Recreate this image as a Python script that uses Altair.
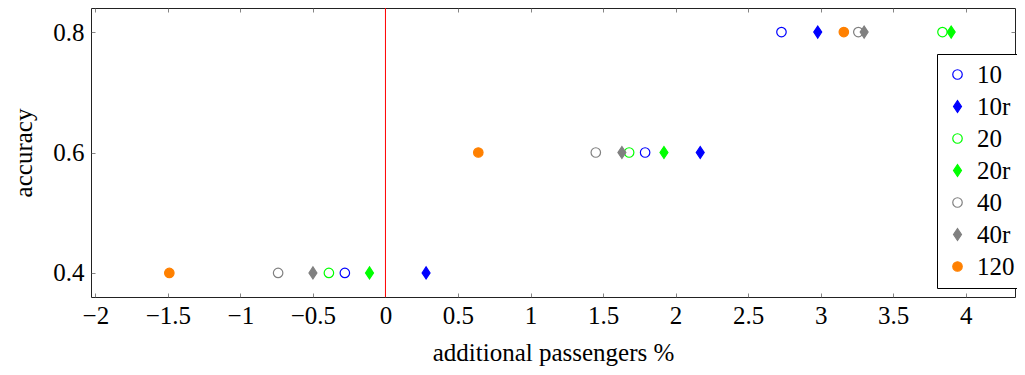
import altair as alt
import pandas as pd

# ---- data ----
accuracy = [0.4, 0.6, 0.8]
series_names = ["10", "10r", "20", "20r", "40", "40r", "120"]
x_10 = [-0.28, 1.79, 2.73]
x_10r = [0.28, 2.17, 2.98]
x_20 = [-0.39, 1.68, 3.84]
x_20r = [-0.11, 1.92, 3.90]
x_40 = [-0.74, 1.45, 3.26]
x_40r = [-0.50, 1.63, 3.30]
x_120 = [-1.49, 0.64, 3.16]
zero_line = [0]
x_ticks = [-2, -1.5, -1, -0.5, 0, 0.5, 1, 1.5, 2, 2.5, 3, 3.5, 4]
y_ticks = [0.4, 0.6, 0.8]

# ---- styles ----
stroke_colors = ["#0000ff", "#0000ff", "#00ff00", "#00ff00", "#808080", "#808080", "#ff8000"]
fill_colors = ["transparent", "#0000ff", "transparent", "#00ff00", "transparent", "#808080", "#ff8000"]
diamond = "M0,-1.27L0.84,0L0,1.27L-0.84,0Z"
shapes = ["circle", diamond, "circle", diamond, "circle", diamond, "circle"]

all_x = [x_10, x_10r, x_20, x_20r, x_40, x_40r, x_120]
rows = []
for name, xs in zip(series_names, all_x):
    for xv, yv in zip(xs, accuracy):
        rows.append({"series": name, "passengers": xv, "accuracy": yv})
df = pd.DataFrame(rows)
df_zero = pd.DataFrame({"zero": zero_line})

FONT = "Liberation Serif"
FS = 25
xscale = alt.Scale(domain=[-2.03, 4.34], nice=False, zero=False)
yscale = alt.Scale(domain=[0.36, 0.84], nice=False, zero=False)

tick_style = dict(tickSize=4, tickColor="#666666", tickWidth=0.8, offset=-4,
                  domain=False, grid=False)

x_bottom = alt.Axis(values=x_ticks, format="~g", title="additional passengers %",
                    labelFont=FONT, labelFontSize=FS, labelColor="black",
                    labelPadding=6, titleFont=FONT, titleFontSize=FS,
                    titleFontWeight="normal", titleColor="black", titlePadding=12,
                    labelFlush=False, labelOverlap=False, **tick_style)
y_left = alt.Axis(values=y_ticks, format=".1f", title="accuracy",
                  labelFont=FONT, labelFontSize=FS, labelColor="black",
                  labelPadding=7, titleFont=FONT, titleFontSize=FS,
                  titleFontWeight="normal", titleColor="black", titlePadding=16,
                  labelFlush=False, **tick_style)
x_top = alt.Axis(values=x_ticks, orient="top", labels=False, title=None, **tick_style)
y_right = alt.Axis(values=y_ticks, orient="right", labels=False, title=None, **tick_style)

zero_rule = alt.Chart(df_zero).mark_rule(color="#ff0000", strokeWidth=1, opacity=1).encode(
    x=alt.X("zero:Q", scale=xscale, axis=x_top)
)

ghost = alt.Chart(df).mark_point(opacity=0).encode(
    x=alt.X("passengers:Q", scale=xscale, axis=None),
    y=alt.Y("accuracy:Q", scale=yscale, axis=y_right),
)

points = alt.Chart(df).mark_point(size=90, strokeWidth=1.2, opacity=1, filled=False).encode(
    x=alt.X("passengers:Q", scale=xscale, axis=x_bottom),
    y=alt.Y("accuracy:Q", scale=yscale, axis=y_left),
    color=alt.Color("series:N", sort=series_names,
                    scale=alt.Scale(domain=series_names, range=stroke_colors),
                    legend=alt.Legend(title=None, orient="none", legendX=846, legendY=46,
                                      strokeColor="black", fillColor="white", padding=8,
                                      labelFont=FONT, labelFontSize=FS, labelColor="black",
                                      rowPadding=6, symbolSize=90, symbolStrokeWidth=1.2,
                                      labelOffset=7)),
    fill=alt.Fill("series:N", sort=series_names,
                  scale=alt.Scale(domain=series_names, range=fill_colors)),
    shape=alt.Shape("series:N", sort=series_names,
                    scale=alt.Scale(domain=series_names, range=shapes)),
)

chart = alt.layer(zero_rule, ghost, points).resolve_axis(
    x="independent", y="independent"
).properties(
    width=924, height=289,
    autosize=alt.AutoSizeParams(type="none"),
    padding={"left": 83, "top": 0, "right": 2, "bottom": 70},
).configure_view(stroke="#222222", strokeWidth=1).configure_axis(
    titleFont=FONT, labelFont=FONT, titleFontWeight="normal"
).configure_legend(labelFont=FONT)

chart.save("out.html", embed_options={"renderer": "svg", "actions": False})
